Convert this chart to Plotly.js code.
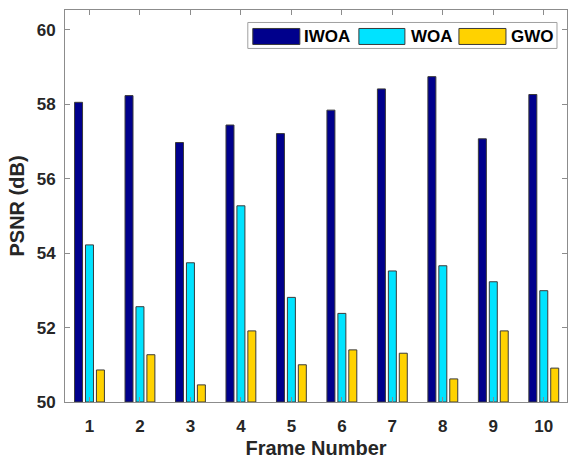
<!DOCTYPE html>
<html>
<head>
<meta charset="utf-8">
<script src="https://cdn.plot.ly/plotly-3.0.1.min.js"></script>
<style>html,body{margin:0;padding:0;background:#fff;}#chart{width:574px;height:460px;}</style>
</head>
<body>
<div id="chart"></div>
<script>
const frames = [1, 2, 3, 4, 5, 6, 7, 8, 9, 10];
const tickLabels = ['1', '2', '3', '4', '5', '6', '7', '8', '9', '10'];
const iwoa = [58.05, 58.23, 56.97, 57.44, 57.21, 57.84, 58.41, 58.74, 57.07, 58.26];
const woa  = [54.22, 52.56, 53.74, 55.27, 52.81, 52.38, 53.52, 53.66, 53.23, 52.99];
const gwo  = [50.86, 51.27, 50.46, 51.91, 51.00, 51.40, 51.31, 50.62, 51.91, 50.91];
const seriesNames = ['IWOA', 'WOA', 'GWO'];
const colors = ['#00008C', '#00E3FF', '#FFD200'];

const W = 574, H = 460;
const L = 65.3, R = 567, T = 9.5, B = 402;
const px = x => (x - L) / (R - L);
const py = y => (B - y) / (B - T);

const base = 50;
const data = [iwoa, woa, gwo].map((vals, i) => ({
  type: 'bar',
  name: seriesNames[i],
  x: frames,
  y: vals.map(v => v - base),
  base: base,
  marker: {color: colors[i], line: {color: '#3a3a3a', width: 1}},
  hoverinfo: 'x+y'
}));

const legendBox = {x0: 248, x1: 557, y0: 22, y1: 48};
const swatches = [[253, 300], [359, 405], [459, 506]];
const textLeft = [302, 409, 509];
const shapes = [{
  type: 'rect', xref: 'paper', yref: 'paper',
  x0: px(legendBox.x0), x1: px(legendBox.x1), y0: py(legendBox.y1), y1: py(legendBox.y0),
  line: {color: '#a0a0a0', width: 1}, fillcolor: '#ffffff', layer: 'above'
}];
const annotations = [];
swatches.forEach((s, i) => {
  shapes.push({
    type: 'rect', xref: 'paper', yref: 'paper',
    x0: px(s[0]), x1: px(s[1]), y0: py(44), y1: py(28),
    line: {color: '#3a3a3a', width: 1}, fillcolor: colors[i], layer: 'above'
  });
  annotations.push({
    xref: 'paper', yref: 'paper', x: px(textLeft[i]), y: py(36), xanchor: 'left', yanchor: 'middle',
    text: '<b>' + seriesNames[i] + '</b>', showarrow: false,
    font: {family: 'Liberation Sans, Arial, sans-serif', size: 17, color: '#000'}
  });
});

const axisCommon = {
  showline: true, linecolor: '#8c8c8c', linewidth: 1, mirror: 'ticks',
  ticks: 'inside', ticklen: 5, tickcolor: '#8c8c8c', tickwidth: 1,
  showgrid: false, zeroline: false,
  tickfont: {family: 'Liberation Sans, Arial, sans-serif', size: 17, color: '#262626', weight: 'bold'}
};

const layout = {
  width: W, height: H,
  margin: {l: L, r: W - R, t: T, b: H - B, pad: 0},
  paper_bgcolor: '#fff', plot_bgcolor: '#fff',
  showlegend: false,
  barmode: 'group', bargap: 0.35, bargroupgap: 0.27,
  xaxis: Object.assign({}, axisCommon, {
    range: [0.515, 10.46], tickmode: 'array', tickvals: frames, ticktext: tickLabels,
    ticklabelstandoff: 9,
    title: {text: '<b>Frame Number</b>', standoff: 5,
      font: {family: 'Liberation Sans, Arial, sans-serif', size: 20, color: '#262626'}}
  }),
  yaxis: Object.assign({}, axisCommon, {
    range: [50, 60.53], tickmode: 'array', tickvals: [50, 52, 54, 56, 58, 60],
    ticktext: ['50', '52', '54', '56', '58', '60'],
    ticklabelstandoff: 5,
    title: {text: '<b>PSNR (dB)</b>', standoff: 6,
      font: {family: 'Liberation Sans, Arial, sans-serif', size: 20, color: '#262626'}}
  }),
  shapes: shapes,
  annotations: annotations
};

Plotly.newPlot('chart', data, layout, {displayModeBar: false, staticPlot: true});
</script>
</body>
</html>
